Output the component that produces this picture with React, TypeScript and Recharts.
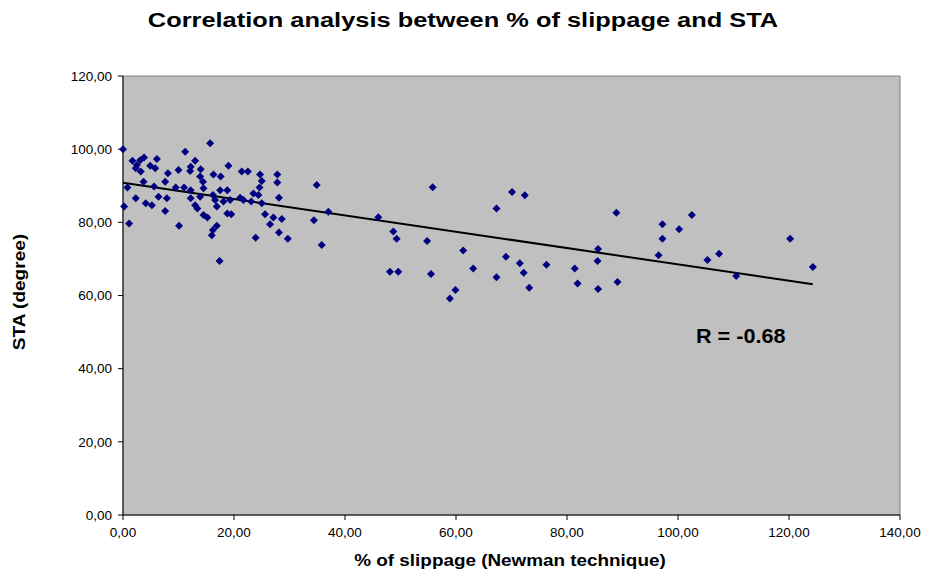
import {
  ScatterChart,
  Scatter,
  XAxis,
  YAxis,
  ReferenceArea,
  ReferenceLine,
} from "recharts";

// % of slippage (Newman technique) vs STA (degree)
const SLIPPAGE = [
  0, 1.7, 2.5, 3.1, 3.8, 2.3, 3.2, 4.9, 6.1, 5.8, 8.1, 3.7, 0.8, 5.6, 7.6, 2.3,
  4.1, 5.2, 6.4, 7.9, 0.2, 7.6, 1.1, 15.7, 11.2, 13.0, 12.2, 10.0, 12.1, 14.0,
  13.9, 14.4, 16.3, 17.6, 19.0, 9.5, 11.0, 12.2, 14.5, 13.9, 12.2, 16.2, 17.5,
  18.8, 16.6, 18.1, 13.0, 13.4, 16.9, 18.8, 14.5, 15.2, 16.9, 16.2, 16.0, 10.1,
  17.4, 21.4, 22.5, 24.7, 27.8, 25.0, 27.8, 24.6, 23.5, 24.4, 28.1, 21.1, 21.7,
  23.1, 25.0, 19.3, 19.5, 25.6, 27.1, 28.6, 26.5, 28.1, 29.7, 23.9, 34.9, 37.0,
  34.4, 35.8, 46.0, 48.7, 49.3, 48.1, 49.6, 55.8, 54.8, 55.5, 59.9, 58.9, 61.3,
  63.1, 67.3, 67.3, 69.0, 70.1, 72.4, 71.5, 72.2, 73.2, 76.3, 81.4, 81.9, 85.6,
  85.5, 85.6, 89.1, 88.9, 96.5, 97.2, 97.2, 100.2, 102.5, 105.3, 107.4, 110.5,
  120.2, 124.3,
];
const STA = [
  100.0, 96.8, 95.7, 97.0, 97.7, 94.8, 93.9, 95.5, 97.3, 94.8, 93.4, 91.1, 89.5,
  89.8, 91.1, 86.6, 85.2, 84.7, 87.0, 86.6, 84.3, 83.1, 79.7, 101.6, 99.3, 96.8,
  95.2, 94.3, 94.0, 94.5, 92.5, 91.1, 93.1, 92.5, 95.5, 89.5, 89.5, 88.8, 89.3,
  87.0, 86.6, 87.5, 88.8, 88.8, 86.1, 85.7, 84.7, 83.8, 84.3, 82.4, 82.0, 81.3,
  79.1, 77.9, 76.5, 79.1, 69.4, 93.9, 93.9, 93.1, 93.1, 91.3, 90.9, 89.5, 87.9,
  87.5, 86.7, 86.7, 86.1, 85.7, 85.2, 86.1, 82.2, 82.2, 81.3, 80.9, 79.5, 77.2,
  75.5, 75.8, 90.2, 82.9, 80.6, 73.8, 81.4, 77.5, 75.5, 66.5, 66.5, 89.6, 74.9,
  65.9, 61.5, 59.2, 72.3, 67.4, 83.8, 65.0, 70.6, 88.3, 87.4, 68.8, 66.2, 62.1,
  68.4, 67.4, 63.3, 61.8, 69.4, 72.7, 63.7, 82.6, 71.0, 75.5, 79.5, 78.1, 82.0,
  69.7, 71.4, 65.3, 75.5, 67.8,
];
// linear trend line end points
const TREND_X = [0, 124.3];
const TREND_Y = [90.8, 63.1];

const X_TICKS = [0, 20, 40, 60, 80, 100, 120, 140];
const Y_TICKS = [0, 20, 40, 60, 80, 100, 120];

const points = SLIPPAGE.map((x, i) => ({ x, y: STA[i] }));
const fmt = (v: number) => v.toFixed(2).replace(".", ",");

const FONT = "'Liberation Sans', Arial, sans-serif";

const Diamond = (props: any) => {
  const { cx, cy } = props;
  const r = 4;
  return (
    <path
      d={`M${cx},${cy - r}L${cx + r},${cy}L${cx},${cy + r}L${cx - r},${cy}Z`}
      fill="#000080"
    />
  );
};

export default function App() {
  return (
    <div
      style={{
        position: "relative",
        width: 926,
        height: 576,
        background: "#fff",
        fontFamily: FONT,
      }}
    >
      <style>{"body{margin:0}"}</style>
      <div
        style={{
          position: "absolute",
          top: 9,
          left: 463,
          transform: "translateX(-50%) scaleX(1.27)",
          whiteSpace: "nowrap",
          fontWeight: "bold",
          fontSize: 20,
        }}
      >
        Correlation analysis between % of slippage and STA
      </div>
      <ScatterChart
        width={926}
        height={576}
        margin={{ top: 76, right: 26, bottom: 31, left: 63 }}
        style={{ fontFamily: FONT }}
      >
        <ReferenceArea
          x1={0}
          x2={140}
          y1={0}
          y2={120}
          fill="#c0c0c0"
          fillOpacity={1}
          stroke="#808080"
          strokeWidth={1}
        />
        <XAxis
          type="number"
          dataKey="x"
          domain={[0, 140]}
          ticks={X_TICKS}
          tickFormatter={fmt}
          height={30}
          tickSize={5}
          tickMargin={7}
          axisLine={{ stroke: "#000" }}
          tickLine={{ stroke: "#000" }}
          tick={{ fill: "#000", fontSize: 13.5 }}
          interval={0}
        />
        <YAxis
          type="number"
          dataKey="y"
          domain={[0, 120]}
          ticks={Y_TICKS}
          tickFormatter={fmt}
          width={60}
          tickSize={5}
          tickMargin={6}
          axisLine={{ stroke: "#000" }}
          tickLine={{ stroke: "#000" }}
          tick={{ fill: "#000", fontSize: 13.5 }}
          interval={0}
        />
        <ReferenceLine
          segment={[
            { x: TREND_X[0], y: TREND_Y[0] },
            { x: TREND_X[1], y: TREND_Y[1] },
          ]}
          stroke="#000"
          strokeWidth={2}
        />
        <Scatter data={points} shape={Diamond} isAnimationActive={false} />
      </ScatterChart>
      <div
        style={{
          position: "absolute",
          left: 696,
          top: 325,
          transformOrigin: "left center",
          transform: "scaleX(1.08)",
          whiteSpace: "nowrap",
          fontWeight: "bold",
          fontSize: 20,
        }}
      >
        R = -0.68
      </div>
      <div
        style={{
          position: "absolute",
          left: 510,
          top: 551,
          transform: "translateX(-50%) scaleX(1.11)",
          whiteSpace: "nowrap",
          fontWeight: "bold",
          fontSize: 17,
        }}
      >
        % of slippage (Newman technique)
      </div>
      <div
        style={{
          position: "absolute",
          left: 20,
          top: 292,
          transform: "translate(-50%, -50%) rotate(-90deg) scaleX(1.12)",
          whiteSpace: "nowrap",
          fontWeight: "bold",
          fontSize: 17,
        }}
      >
        STA (degree)
      </div>
    </div>
  );
}
